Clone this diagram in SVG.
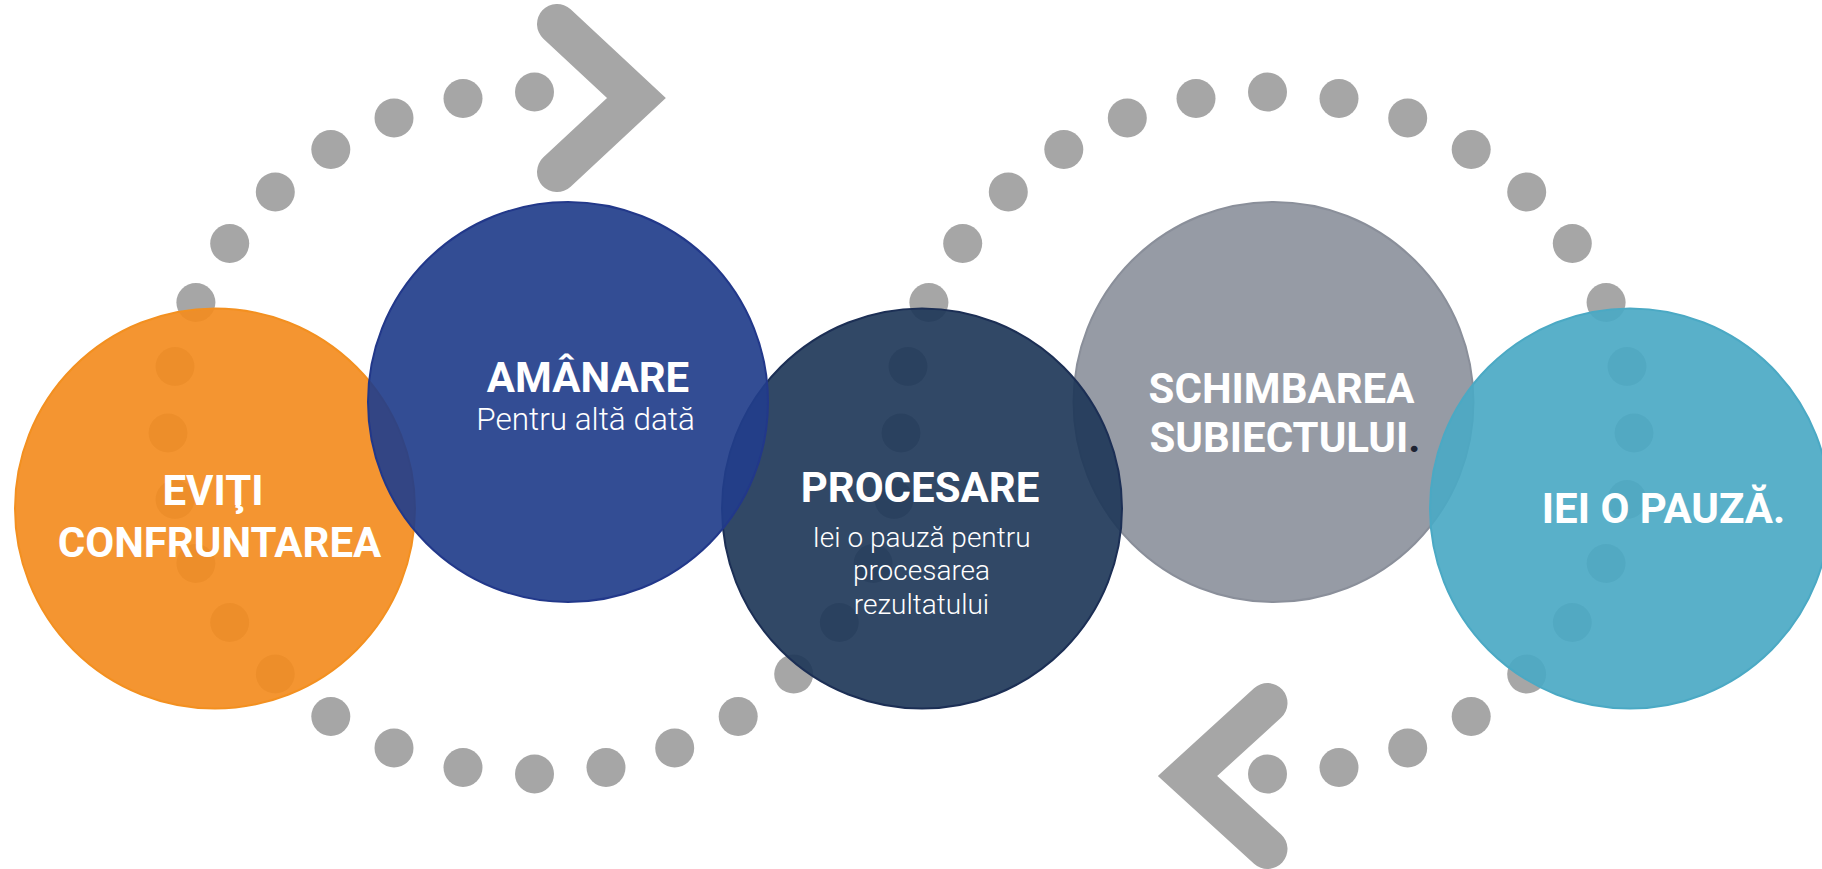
<svg xmlns="http://www.w3.org/2000/svg" width="1822" height="869" viewBox="0 0 1822 869">
<style>
.dot{fill:#A6A6A6}
.chev{fill:none;stroke:#A6A6A6;stroke-width:40;stroke-linecap:round;stroke-linejoin:miter;stroke-miterlimit:10}
.circ{fill-opacity:0.92;stroke-width:2}
.t{font-family:Roboto,"Liberation Sans",sans-serif;font-weight:700;font-size:42px;fill:#FFFFFF;text-anchor:middle}
.s{font-family:Roboto,"Liberation Sans",sans-serif;font-weight:300;fill:#FFFFFF;text-anchor:middle}
</style>
<rect width="1822" height="869" fill="#FFFFFF"/>
<g id="connectors">
<g id="dots-left">
<ellipse class="dot" cx="534.5" cy="92" rx="19.5" ry="19.5"/>
<ellipse class="dot" cx="463" cy="98.5" rx="19.5" ry="19.5"/>
<ellipse class="dot" cx="394" cy="118" rx="19.5" ry="19.5"/>
<ellipse class="dot" cx="330.8" cy="149.5" rx="19.5" ry="19.5"/>
<ellipse class="dot" cx="275.3" cy="191.9" rx="19.5" ry="19.5"/>
<ellipse class="dot" cx="229.7" cy="243.5" rx="19.5" ry="19.5"/>
<ellipse class="dot" cx="195.9" cy="302.5" rx="19.5" ry="19.5"/>
<ellipse class="dot" cx="175" cy="366.5" rx="19.5" ry="19.5"/>
<ellipse class="dot" cx="168" cy="433" rx="19.5" ry="19.5"/>
<ellipse class="dot" cx="175" cy="499.5" rx="19.5" ry="19.5"/>
<ellipse class="dot" cx="195.9" cy="563.5" rx="19.5" ry="19.5"/>
<ellipse class="dot" cx="229.7" cy="622.5" rx="19.5" ry="19.5"/>
<ellipse class="dot" cx="275.3" cy="674.1" rx="19.5" ry="19.5"/>
<ellipse class="dot" cx="330.8" cy="716.5" rx="19.5" ry="19.5"/>
<ellipse class="dot" cx="394" cy="748" rx="19.5" ry="19.5"/>
<ellipse class="dot" cx="463" cy="767.5" rx="19.5" ry="19.5"/>
<ellipse class="dot" cx="534.5" cy="774" rx="19.5" ry="19.5"/>
<ellipse class="dot" cx="606" cy="767.5" rx="19.5" ry="19.5"/>
<ellipse class="dot" cx="674.7" cy="748" rx="19.5" ry="19.5"/>
<ellipse class="dot" cx="738.2" cy="716.5" rx="19.5" ry="19.5"/>
<ellipse class="dot" cx="793.7" cy="674.1" rx="19.5" ry="19.5"/>
<ellipse class="dot" cx="839.3" cy="622.5" rx="19.5" ry="19.5"/>
<ellipse class="dot" cx="873.1" cy="563.5" rx="19.5" ry="19.5"/>
<ellipse class="dot" cx="894" cy="499.5" rx="19.5" ry="19.5"/>
<ellipse class="dot" cx="901" cy="433" rx="19.5" ry="19.5"/>
</g>
<g id="dots-right">
<ellipse class="dot" cx="908" cy="366.5" rx="19.5" ry="19.5"/>
<ellipse class="dot" cx="928.9" cy="302.5" rx="19.5" ry="19.5"/>
<ellipse class="dot" cx="962.7" cy="243.5" rx="19.5" ry="19.5"/>
<ellipse class="dot" cx="1008.3" cy="191.9" rx="19.5" ry="19.5"/>
<ellipse class="dot" cx="1063.8" cy="149.5" rx="19.5" ry="19.5"/>
<ellipse class="dot" cx="1127.3" cy="118" rx="19.5" ry="19.5"/>
<ellipse class="dot" cx="1196" cy="98.5" rx="19.5" ry="19.5"/>
<ellipse class="dot" cx="1267.5" cy="92" rx="19.5" ry="19.5"/>
<ellipse class="dot" cx="1339" cy="98.5" rx="19.5" ry="19.5"/>
<ellipse class="dot" cx="1407.7" cy="118" rx="19.5" ry="19.5"/>
<ellipse class="dot" cx="1471.2" cy="149.5" rx="19.5" ry="19.5"/>
<ellipse class="dot" cx="1526.7" cy="191.9" rx="19.5" ry="19.5"/>
<ellipse class="dot" cx="1572.3" cy="243.5" rx="19.5" ry="19.5"/>
<ellipse class="dot" cx="1606.1" cy="302.5" rx="19.5" ry="19.5"/>
<ellipse class="dot" cx="1627" cy="366.5" rx="19.5" ry="19.5"/>
<ellipse class="dot" cx="1634" cy="433" rx="19.5" ry="19.5"/>
<ellipse class="dot" cx="1627" cy="499.5" rx="19.5" ry="19.5"/>
<ellipse class="dot" cx="1606.1" cy="563.5" rx="19.5" ry="19.5"/>
<ellipse class="dot" cx="1572.3" cy="622.5" rx="19.5" ry="19.5"/>
<ellipse class="dot" cx="1526.7" cy="674.1" rx="19.5" ry="19.5"/>
<ellipse class="dot" cx="1471.2" cy="716.5" rx="19.5" ry="19.5"/>
<ellipse class="dot" cx="1407.7" cy="748" rx="19.5" ry="19.5"/>
<ellipse class="dot" cx="1339" cy="767.5" rx="19.5" ry="19.5"/>
<ellipse class="dot" cx="1267.5" cy="774" rx="19.5" ry="19.5"/>
</g>
<path class="chev" d="M557 24 L636.5 98 L557 172"/>
<path class="chev" d="M1267.5 703 L1187.5 776 L1267.5 849"/>
</g>
<g id="node-schimbarea">
<circle class="circ" cx="1273.5" cy="402" r="200" fill="#8D929D" stroke="#8A8F9A"/>
</g>
<g id="node-pauza">
<circle class="circ" cx="1630" cy="508.5" r="200" fill="#4BA9C4" stroke="#4BA9C4"/>
<text class="t" x="1663.5" y="523">IEI O PAUZĂ.</text>
</g>
<g id="node-procesare">
<circle class="circ" cx="922" cy="508.5" r="200" fill="#203859" stroke="#1C2F55"/>
<text class="t" x="920" y="502">PROCESARE</text>
<text class="s" font-size="28" x="921.5" y="547">Iei o pauză pentru</text>
<text class="s" font-size="28" x="921.5" y="580">procesarea</text>
<text class="s" font-size="28" x="921.5" y="614">rezultatului</text>
</g>
<g id="node-schimbarea-text">
<text class="t" x="1281.5" y="403">SCHIMBAREA</text>
<text class="t" x="1285" y="452">SUBIECTULUI<tspan fill="#1E2433">.</tspan></text>
</g>
<g id="node-eviti">
<circle class="circ" cx="215" cy="508.5" r="200" fill="#F38C1F" stroke="#F39020"/>
<text class="t" x="213" y="505">EVIŢI</text>
<text class="t" x="219.5" y="557">CONFRUNTAREA</text>
</g>
<g id="node-amanare">
<circle class="circ" cx="568" cy="402" r="200" fill="#223E8B" stroke="#22388A"/>
<text class="t" x="588" y="392">AMÂNARE</text>
<text class="s" font-size="31.5" x="585.5" y="430">Pentru altă dată</text>
</g>
</svg>
